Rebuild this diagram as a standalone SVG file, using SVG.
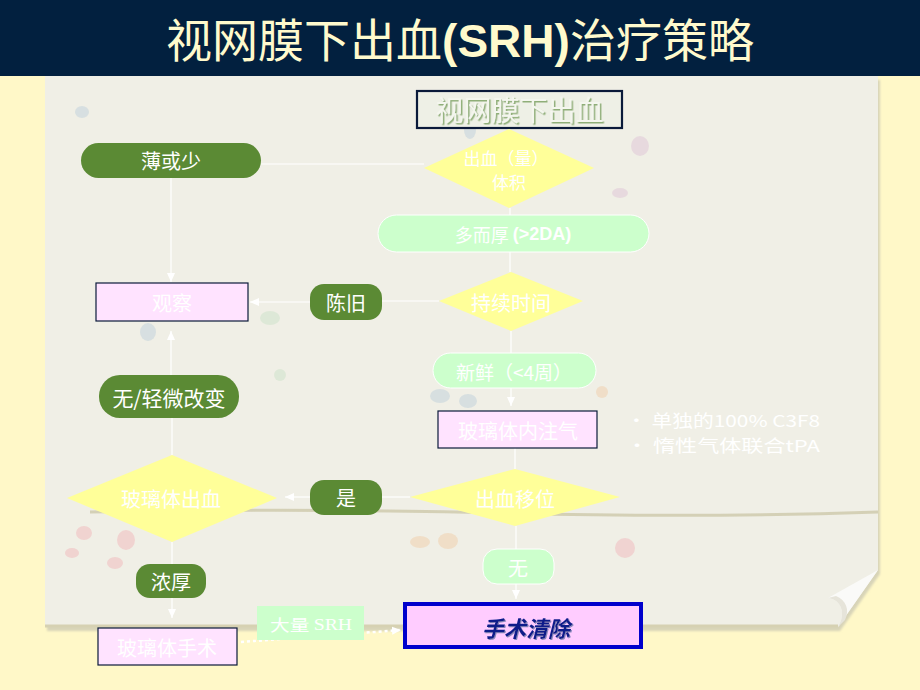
<svg xmlns="http://www.w3.org/2000/svg" width="920" height="690" viewBox="0 0 920 690">
<defs>
<marker id="arr" markerUnits="userSpaceOnUse" markerWidth="10" markerHeight="10" refX="9" refY="5" orient="auto">
<path d="M0,1 L9,5 L0,9 Z" fill="#ffffff"/>
</marker>
<filter id="soft" x="-10%" y="-10%" width="120%" height="120%"><feGaussianBlur stdDeviation="1.2"/></filter>
<filter id="shGreen" x="-10%" y="-20%" width="120%" height="140%"><feDropShadow dx="1.5" dy="1.5" stdDeviation="0.3" flood-color="#8fae78" flood-opacity="1"/></filter>
<filter id="shBlue" x="-10%" y="-20%" width="120%" height="140%"><feDropShadow dx="1" dy="1" stdDeviation="0.4" flood-color="#8888bb" flood-opacity="1"/></filter>
</defs>
<style>
.cjk{font-family:"Noto Sans CJK SC","Liberation Sans",sans-serif}
.wt{fill:#ffffff;text-anchor:middle;dominant-baseline:central;font-family:"Noto Sans CJK SC","Liberation Sans",sans-serif}
.green{fill:#5b8a34}
.mint{fill:#ccffcc;stroke:#ffffff;stroke-width:1}
.dia{fill:#ffff99}
.pink{fill:#ffe3ff;stroke:#0a1a3a;stroke-width:1.2}
.ln{stroke:#ffffff;stroke-width:1.2;fill:none}
</style>
<rect x="0" y="0" width="920" height="690" fill="#fff8c8"/>
<!-- paper -->
<path d="M47,80 H880 V574 L840,631 H47 Z" fill="#d8d4b8" filter="url(#soft)"/>
<path d="M45,75 H878 V570 L838,627 H45 Z" fill="#f0efe6"/>
<path d="M90,512 Q300,508 500,513 T878,512" stroke="#cdc8aa" stroke-width="3" fill="none" opacity="0.8"/>
<path d="M45,626 H838" stroke="#d6d1b2" stroke-width="3" fill="none"/>
<path d="M878,570 L838,627 C846,614 842,600 828,598 Z" fill="#fafaf8"/>
<path d="M828,598 C842,600 846,614 838,627 L845,620 C850,610 846,600 836,596 Z" fill="#e6e4da"/>
<!-- faint splatter -->
<g opacity="0.35">
<ellipse cx="148" cy="332" rx="8" ry="9" fill="#a9c3d6"/>
<ellipse cx="82" cy="112" rx="7" ry="6" fill="#a9c3d6"/>
<ellipse cx="470" cy="130" rx="6" ry="9" fill="#a9c3d6"/>
<ellipse cx="640" cy="146" rx="9" ry="10" fill="#d8b3d0"/>
<ellipse cx="620" cy="193" rx="8" ry="5" fill="#d8b3d0"/>
<ellipse cx="84" cy="533" rx="8" ry="7" fill="#f2a0a8"/>
<ellipse cx="126" cy="540" rx="9" ry="10" fill="#f2a0a8"/>
<ellipse cx="72" cy="553" rx="7" ry="5" fill="#f2a0a8"/>
<ellipse cx="115" cy="563" rx="8" ry="6" fill="#f2a0a8"/>
<ellipse cx="625" cy="548" rx="10" ry="10" fill="#f2a0a8"/>
<ellipse cx="448" cy="541" rx="10" ry="8" fill="#f0c090"/>
<ellipse cx="420" cy="542" rx="10" ry="6" fill="#f0c090"/>
<ellipse cx="602" cy="392" rx="6" ry="6" fill="#f0c090"/>
<ellipse cx="270" cy="318" rx="10" ry="7" fill="#bcdcbc"/>
<ellipse cx="280" cy="375" rx="6" ry="6" fill="#bcdcbc"/>
<ellipse cx="440" cy="396" rx="10" ry="7" fill="#a9c3d6"/>
<ellipse cx="468" cy="401" rx="9" ry="7" fill="#a9c3d6"/>
</g>
<!-- title bar -->
<rect x="0" y="0" width="920" height="76" fill="#02203f"/>
<text x="460" y="57" text-anchor="middle" fill="#fffacd" font-size="46" class="cjk">视网膜下出血<tspan font-family="'Liberation Sans',Arial,sans-serif" font-weight="bold">(SRH)</tspan>治疗策略</text>

<g id="connectors">
<line class="ln" x1="424" y1="164" x2="261" y2="164"/>
<line class="ln" x1="171" y1="178" x2="171" y2="282" marker-end="url(#arr)"/>
<line class="ln" x1="510" y1="208" x2="510" y2="215"/>
<line class="ln" x1="510" y1="252" x2="510" y2="272"/>
<line class="ln" x1="439" y1="301" x2="382" y2="301"/>
<line class="ln" x1="310" y1="302" x2="250" y2="302" marker-end="url(#arr)"/>
<line class="ln" x1="511" y1="331" x2="511" y2="353"/>
<line class="ln" x1="511" y1="388" x2="511" y2="406" marker-end="url(#arr)"/>
<line class="ln" x1="515" y1="448" x2="515" y2="469"/>
<line class="ln" x1="410" y1="497" x2="382" y2="497"/>
<line class="ln" x1="310" y1="497" x2="285" y2="497" marker-end="url(#arr)"/>
<line class="ln" x1="172" y1="455" x2="172" y2="418"/>
<line class="ln" x1="171" y1="375" x2="171" y2="331" marker-end="url(#arr)"/>
<line class="ln" x1="172" y1="542" x2="172" y2="564"/>
<line class="ln" x1="172" y1="598" x2="172" y2="618" marker-end="url(#arr)"/>
<line class="ln" x1="516" y1="526" x2="516" y2="549"/>
<line class="ln" x1="516" y1="584" x2="516" y2="599" marker-end="url(#arr)"/>
<line x1="241" y1="642" x2="401" y2="630" stroke="#ffffff" stroke-width="2.5" stroke-dasharray="3,3" fill="none" marker-end="url(#arr)"/>
</g>

<g id="n-srh">
<rect x="417" y="91" width="205" height="37" fill="#eef0e6" stroke="#0a1a3a" stroke-width="2.2"/>
<text x="519.5" y="108.5" text-anchor="middle" dominant-baseline="central" font-size="28" class="cjk" fill="#f4f6ee" filter="url(#shGreen)">视网膜下出血</text>
</g>

<g id="n-volume">
<polygon class="dia" points="509,129 594,168 509,208 424,168"/>
<text class="wt" x="506" y="157" font-size="17">出血（量）</text>
<text class="wt" x="509" y="181" font-size="17">体积</text>
</g>

<g id="n-thin">
<rect class="green" x="81" y="143" width="180" height="35" rx="17.5"/>
<text class="wt" x="171" y="160.5" font-size="20">薄或少</text>
</g>

<g id="n-thick">
<rect class="mint" x="378" y="215" width="271" height="37" rx="18.5"/>
<text class="wt" x="513" y="233.5" font-size="18">多而厚 <tspan font-family="'Liberation Sans',Arial,sans-serif" font-weight="bold">(&gt;2DA)</tspan></text>
</g>

<g id="n-duration">
<polygon class="dia" points="511,272 583,301 511,331 439,301"/>
<text class="wt" x="511" y="302" font-size="20">持续时间</text>
</g>

<g id="n-old">
<rect class="green" x="310" y="284" width="72" height="36" rx="14"/>
<text class="wt" x="346" y="302" font-size="20">陈旧</text>
</g>

<g id="n-observe">
<rect class="pink" x="96" y="283" width="152" height="38"/>
<text class="wt" x="172" y="302" font-size="20">观察</text>
</g>

<g id="n-fresh">
<rect class="mint" x="433" y="353" width="163" height="35" rx="17.5"/>
<text class="wt" x="514" y="371" font-size="19">新鲜（&lt;4周）</text>
</g>

<g id="n-gas">
<rect class="pink" x="438" y="411" width="159" height="37"/>
<text class="wt" x="518" y="430" font-size="20">玻璃体内注气</text>
</g>

<g id="n-notes">
<text x="626" y="420" font-size="16.5" class="cjk" fill="#ffffff" dominant-baseline="central" textLength="194" lengthAdjust="spacingAndGlyphs">• 单独的100% C3F8</text>
<text x="626" y="445" font-size="16.5" class="cjk" fill="#ffffff" dominant-baseline="central" textLength="194" lengthAdjust="spacingAndGlyphs">• 惰性气体联合tPA</text>
</g>

<g id="n-shift">
<polygon class="dia" points="515,469 620,497 515,526 410,497"/>
<text class="wt" x="515" y="498" font-size="20">出血移位</text>
</g>

<g id="n-yes">
<rect class="green" x="310" y="480" width="72" height="35" rx="14"/>
<text class="wt" x="346" y="497.5" font-size="20">是</text>
</g>

<g id="n-vh">
<polygon class="dia" points="172,455 277,498 172,542 67,498"/>
<text class="wt" x="171" y="498" font-size="20">玻璃体出血</text>
</g>

<g id="n-mild">
<rect class="green" x="99" y="375" width="140" height="43" rx="21"/>
<text class="wt" x="169" y="397" font-size="21">无/轻微改变</text>
</g>

<g id="n-dense">
<rect class="green" x="136" y="564" width="70" height="34" rx="14"/>
<text class="wt" x="171" y="581" font-size="20">浓厚</text>
</g>

<g id="n-vitrectomy">
<rect class="pink" x="98" y="628" width="139" height="37"/>
<text class="wt" x="167" y="647" font-size="20">玻璃体手术</text>
</g>

<g id="n-large">
<rect x="257" y="606" width="107" height="34" fill="#ccffcc"/>
<text class="wt" x="311" y="624" font-size="16" textLength="82" lengthAdjust="spacingAndGlyphs">大量 <tspan font-family="'Liberation Serif',serif">SRH</tspan></text>
</g>

<g id="n-none">
<rect class="mint" x="483" y="549" width="71" height="35" rx="14"/>
<text class="wt" x="518" y="567" font-size="20">无</text>
</g>

<g id="n-surgery">
<rect x="405" y="604" width="236" height="43" fill="#ffccff" stroke="#0000cc" stroke-width="4"/>
<text x="526" y="627" text-anchor="middle" dominant-baseline="central" font-size="22" font-weight="bold" font-style="italic" class="cjk" fill="#0a1a8a" filter="url(#shBlue)">手术清除</text>
</g>
</svg>
